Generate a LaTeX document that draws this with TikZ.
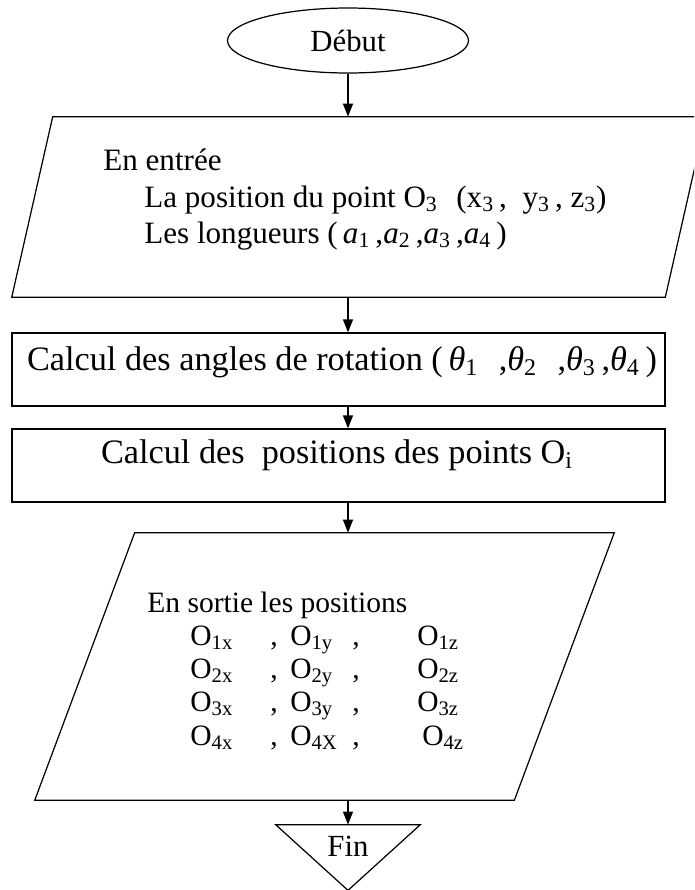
\documentclass[tikz,border=0pt]{standalone}
\usepackage{fontspec}
\setmainfont{Liberation Serif}
\usetikzlibrary{arrows.meta,shapes.geometric}
\newcommand{\flowfont}{\fontsize{16.8}{20}\selectfont}
\newcommand{\infont}{\fontsize{17.7}{21}\selectfont}
\newcommand{\calcfont}{\fontsize{19.5}{23}\selectfont}
\newcommand{\termfont}{\fontsize{17.5}{21}\selectfont}
\newcommand{\subidx}[1]{\textsubscript{#1}}
\newcommand{\outrow}[3]{\makebox[1.6cm][l]{#1}\makebox[0.4cm][l]{,}\makebox[1.24cm][l]{#2}\makebox[1.3cm][l]{,}#3}
\tikzset{
  startnode/.style={
    draw,
    ellipse,
    line width=0.7pt,
    minimum width=4.82cm,
    minimum height=1.3cm,
    inner sep=0pt,
    font=\termfont
  },
  iobody/.style={
    rectangle,
    inner sep=0pt
  },
  calcbox/.style={
    draw,
    rectangle,
    line width=0.7pt,
    minimum width=13.06cm,
    minimum height=1.46cm,
    inner sep=0pt
  },
  endbox/.style={
    rectangle,
    minimum width=2.88cm,
    minimum height=1.3cm,
    inner sep=0pt
  },
  flowtext/.style={inner sep=0pt,anchor=base west,font=\flowfont},
  flowline/.style={line width=0.7pt,line join=miter},
  flowarrow/.style={-{Triangle[length=2.6mm,width=2mm]},line width=0.7pt}
}

\begin{document}
\begin{tikzpicture}[x=0.02cm,y=-0.02cm]
\useasboundingbox (0,0) rectangle (694,890);
\clip (0,0) rectangle (694,890);

% shapes
\node[startnode] (debut) at (348,40.5) {Début};
\node[iobody,minimum width=13.06cm,minimum height=3.6cm] (entree) at (359,207) {};
\draw[flowline] ([xshift=-0.41cm]entree.south west) -- ([xshift=0.41cm]entree.north west)
  -- ([xshift=0.41cm]entree.north east) -- ([xshift=-0.41cm]entree.south east) -- cycle;
\node[calcbox] (angles) at (338.5,369.5) {};
\node[calcbox] (positions) at (338.5,465.5) {};
\node[iobody,minimum width=9.58cm,minimum height=5.34cm] (sortie) at (324.5,666.5) {};
\draw[flowline] ([xshift=-1cm]sortie.south west) -- ([xshift=1cm]sortie.north west)
  -- ([xshift=1cm]sortie.north east) -- ([xshift=-1cm]sortie.south east) -- cycle;
\node[endbox] (fin) at (348,857.5) {};
\draw[flowline] (fin.north west) -- (fin.north east) -- (fin.south) -- cycle;

% texts
\node[flowtext,font=\infont] (inL1) at (103,170) {En entrée};
\node[flowtext,font=\infont] (inL2) at (144,207) {La position du point O\subidx{3}\hspace{0.6em}(x\subidx{3}\,,\hspace{0.5em}y\subidx{3}\,, z\subidx{3})};
\node[flowtext,font=\infont] (inL3) at (144,243) {Les longueurs (\,\textit{a}\subidx{1}\,,\textit{a}\subidx{2}\,,\textit{a}\subidx{3}\,,\textit{a}\subidx{4}\,)};
\node[flowtext,font=\calcfont,anchor=base] (anglesTxt) at (342,370) {Calcul des angles de rotation (\,\textit{θ}\subidx{1}\hspace{0.6em},\textit{θ}\subidx{2}\hspace{0.6em},\textit{θ}\subidx{3}\,,\textit{θ}\subidx{4}\,)};
\node[flowtext,font=\calcfont,anchor=base] (posTxt) at (337,463) {Calcul des\ \ positions des points O\subidx{i}};
\node[flowtext] (outL0) at (147,612) {En sortie les positions};
\node[flowtext] (outL1) at (190,645) {\outrow{O\subidx{1x}}{O\subidx{1y}}{O\subidx{1z}}};
\node[flowtext] (outL2) at (190,678) {\outrow{O\subidx{2x}}{O\subidx{2y}}{O\subidx{2z}}};
\node[flowtext] (outL3) at (190,711) {\outrow{O\subidx{3x}}{O\subidx{3y}}{O\subidx{3z}}};
\node[flowtext] (outL4) at (190,745) {\outrow{O\subidx{4x}}{O\subidx{4X}}{\hspace{0.1cm}O\subidx{4z}}};
\node[flowtext,font=\termfont,anchor=base] (finTxt) at (348,856) {Fin};

% arrows
\draw[flowarrow] (debut.south) -- (debut.south |- entree.north);
\draw[flowarrow] (debut.south |- entree.south) -- (debut.south |- angles.north);
\draw[flowarrow] (debut.south |- angles.south) -- (debut.south |- positions.north);
\draw[flowarrow] (debut.south |- positions.south) -- (debut.south |- sortie.north);
\draw[flowarrow] (debut.south |- sortie.south) -- (fin.north);
\end{tikzpicture}
\end{document}
